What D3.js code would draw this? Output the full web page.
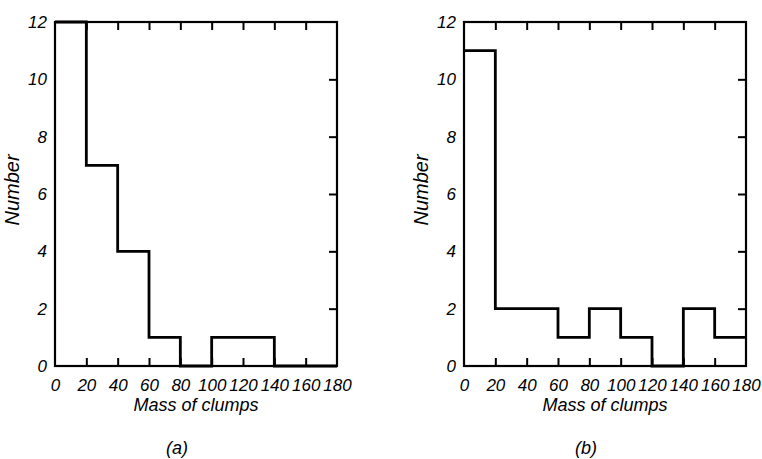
<!DOCTYPE html>
<html>
<head>
<meta charset="utf-8">
<script src="https://cdn.jsdelivr.net/npm/d3@7"></script>
<style>
    body { margin: 0; background: #fff; }
    text { font-family: "Liberation Sans", Arial, sans-serif; font-style: italic; fill: #000; }
    .axis path { display: none; }
    .axis line { stroke: #000; stroke-width: 2; }
</style>
</head>
<body>
<div id="chart"></div>
<script>
// histogram bins (mass of clumps) and counts
var binEdges = [0, 20, 40, 60, 80, 100, 120, 140, 160, 180];
var countsA = [12, 7, 4, 1, 0, 1, 1, 0, 0];
var countsB = [11, 2, 2, 1, 2, 1, 0, 2, 1];
var xTicks = [0, 20, 40, 60, 80, 100, 120, 140, 160, 180];
var yTicks = [0, 2, 4, 6, 8, 10, 12];
var captions = ["(a)", "(b)"];

var svg = d3.select("#chart")
    .append("svg")
    .attr("width", 762)
    .attr("height", 459);

var panels = [
    {left: 55, counts: countsA, caption: captions[0]},
    {left: 464, counts: countsB, caption: captions[1]}
];

var marginTop = 22,
    width = 282,
    height = 344;

panels.forEach(function(p) {
    var g = svg.append("g").attr("transform", "translate(" + p.left + "," + marginTop + ")");

    var x = d3.scaleLinear().domain([0, 180]).range([0, width]),
        y = d3.scaleLinear().domain([0, 12]).range([height, 0]);

    var inner = xTicks.slice(1, -1),
        innerY = yTicks.slice(1, -1);

    // inward ticks on top, bottom and right
    g.append("g")
        .attr("class", "axis")
        .call(d3.axisTop(x).tickValues(inner).tickSize(-8).tickFormat(""));
    g.append("g")
        .attr("class", "axis")
        .attr("transform", "translate(0," + height + ")")
        .call(d3.axisBottom(x).tickValues(inner).tickSize(-8).tickFormat(""));
    g.append("g")
        .attr("class", "axis")
        .attr("transform", "translate(" + width + ",0)")
        .call(d3.axisRight(y).tickValues(innerY).tickSize(-8).tickFormat(""));

    // tick labels
    var xl = g.append("g")
        .attr("class", "axis")
        .attr("transform", "translate(0," + height + ")")
        .call(d3.axisBottom(x).tickValues(xTicks).tickSize(0).tickPadding(0));
    xl.selectAll("line").remove();
    xl.selectAll("text")
        .attr("dy", null)
        .attr("y", 25)
        .style("font-size", "17px");

    var yl = g.append("g")
        .attr("class", "axis")
        .call(d3.axisLeft(y).tickValues(yTicks).tickSize(0).tickPadding(8));
    yl.selectAll("line").remove();
    yl.selectAll("text")
        .style("font-size", "17px");

    // frame
    g.append("rect")
        .attr("width", width)
        .attr("height", height)
        .attr("fill", "none")
        .attr("stroke", "#000")
        .attr("stroke-width", 2.2);

    // histogram as a step line
    var pts = p.counts.map(function(c, i) { return [binEdges[i], c]; });
    pts.push([binEdges[binEdges.length - 1], p.counts[p.counts.length - 1]]);

    var line = d3.line()
        .curve(d3.curveStepAfter)
        .x(function(d) { return x(d[0]); })
        .y(function(d) { return y(d[1]); });

    g.append("path")
        .attr("d", line(pts))
        .attr("fill", "none")
        .attr("stroke", "#000")
        .attr("stroke-width", 2.8);

    g.append("text")
        .attr("x", width / 2)
        .attr("y", height + 45)
        .attr("text-anchor", "middle")
        .style("font-size", "18px")
        .text("Mass of clumps");

    g.append("text")
        .attr("transform", "translate(-36," + (height / 2 - 4) + ") rotate(-90)")
        .attr("text-anchor", "middle")
        .style("font-size", "20px")
        .text("Number");

    g.append("text")
        .attr("x", width / 2 - 19)
        .attr("y", height + 88)
        .attr("text-anchor", "middle")
        .style("font-size", "18px")
        .text(p.caption);
});
</script>
</body>
</html>
